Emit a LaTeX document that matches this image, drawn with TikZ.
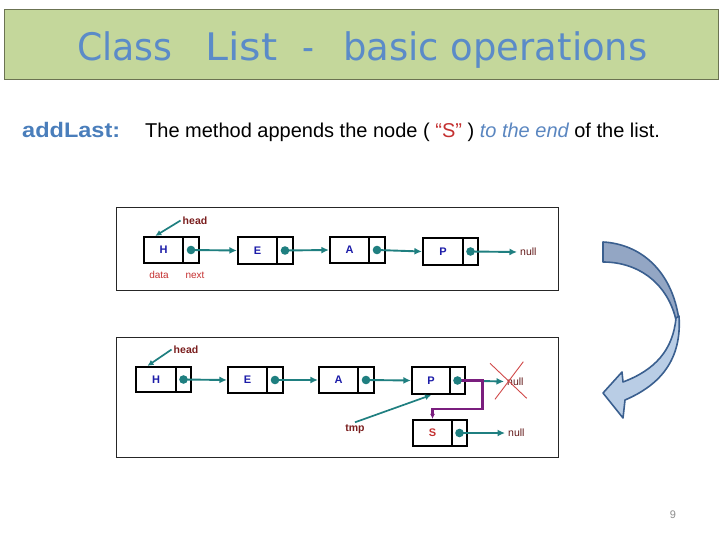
\documentclass[tikz,border=0pt]{standalone}
\usepackage{fontspec}
\setmainfont{Liberation Sans}
\newfontfamily\titlefont{DejaVu Sans}
\usetikzlibrary{arrows.meta}
\definecolor{titlefill}{HTML}{C4D79B}
\definecolor{titleborder}{HTML}{6B7352}
\definecolor{titletext}{HTML}{5B8BC8}
\definecolor{addblue}{HTML}{4A7EBB}
\definecolor{endblue}{HTML}{5A86C0}
\definecolor{tealc}{HTML}{1F7F80}
\definecolor{letterblue}{HTML}{1C1CA8}
\definecolor{labred}{HTML}{7A1E1E}
\definecolor{datared}{HTML}{C43030}
\definecolor{purp}{HTML}{7A1E7E}
\definecolor{xred}{HTML}{D04848}
\definecolor{arrdark}{HTML}{93A6C4}
\definecolor{arrlight}{HTML}{B9CDE5}
\definecolor{arredge}{HTML}{3A5F8F}
\begin{document}
\begin{tikzpicture}[x=1pt,y=-1pt,
  cellD/.style={draw, line width=2.2pt, minimum width=#1, inner sep=0pt,
    font=\fontsize{11}{12}\selectfont\bfseries, text=letterblue},
  cellN/.style={draw, line width=2.2pt, minimum width=#1, inner sep=0pt},
  ptr/.style={tealc, line width=1.9pt, -{Latex[length=7.5pt,width=7pt]}},
  hptr/.style={tealc, line width=1.7pt, -{Latex[length=6pt,width=6pt]}},
  headlab/.style={font=\fontsize{10.5}{12}\selectfont\bfseries, text=labred, inner sep=2pt},
  nulllab/.style={font=\fontsize{10.5}{12}\selectfont, text=labred!80!black, inner sep=3pt},
  dlab/.style={font=\fontsize{10}{11}\selectfont, text=datared, inner sep=1pt},
  titletxt/.style={anchor=base west, text=titletext, font=\titlefont\fontsize{33}{40}\selectfont, inner sep=0pt},
  frame/.style={draw=black!85, line width=0.8pt},
  dot/.style={fill=tealc}]
\useasboundingbox (0,0) rectangle (720,540);
% title
\node[draw=titleborder, fill=titlefill, line width=1pt, minimum width=714, minimum height=70, inner sep=0pt] (title) at (361,45) {};
\node[titletxt] (t1) at (77,61) {\scalebox{1.1}[1.15]{Class}};
\node[titletxt] (t2) at (205,61) {\scalebox{1.25}[1.15]{List}};
\node[titletxt, anchor=base] (t3) at (308,61) {\scalebox{1}[1.15]{-}};
\node[titletxt] (t4) at (343,61) {\scalebox{1.12}[1.15]{basic operations}};
% body text
\node[anchor=base west, text=addblue, font=\fontsize{21}{24}\selectfont\bfseries, inner sep=0pt] (add) at (22,137.5) {\scalebox{1.12}[1]{addLast:}};
\node[anchor=base west, font=\fontsize{20}{24}\selectfont, inner sep=0pt] (desc) at (145,137.5)
  {The method appends the node ( \textcolor{datared}{“S”} ) \textcolor{endblue}{\itshape to the end} of the list.};
% ---------- diagram 1 ----------
\node[frame, minimum width=442, minimum height=83, inner sep=0pt] (f1) at (337.5,248.5) {};
\node[cellD=39, minimum height=26] (H1) at (163.5,250) {H};
\node[cellN=16, minimum height=26] (H1n) at (191,250) {};
\node[cellD=39, minimum height=27] (E1) at (257.5,250.5) {E};
\node[cellN=16, minimum height=27] (E1n) at (285,250.5) {};
\node[cellD=39, minimum height=26] (A1) at (349.5,250) {A};
\node[cellN=16, minimum height=26] (A1n) at (377,250) {};
\node[cellD=40, minimum height=27] (P1) at (443,251.5) {P};
\node[cellN=15, minimum height=27] (P1n) at (470.5,251.5) {};
\node[nulllab, anchor=west] (N1) at (517,252) {null};
\node[headlab] (hd1) at (195,220.5) {head};
\node[dlab] (data1) at (159,275) {data};
\node[dlab] (next1) at (195,275) {next};
\draw[ptr] (H1n.center) -- (E1.west);
\draw[ptr] (E1n.center) -- (A1.west);
\draw[ptr] (A1n.center) -- (P1.west);
\draw[ptr] (P1n.center) -- (N1.west);
\draw[hptr] (hd1.west) -- (H1.120);
\foreach \n in {H1n,E1n,A1n,P1n} \fill[dot] (\n.center) circle (4.3);
% ---------- diagram 2 ----------
\node[frame, minimum width=441.5, minimum height=120, inner sep=0pt] (f2) at (337.25,397.5) {};
\node[cellD=40, minimum height=25] (H2) at (156,379.5) {H};
\node[cellN=15, minimum height=25] (H2n) at (183.5,379.5) {};
\node[cellD=39, minimum height=26] (E2) at (247.5,380) {E};
\node[cellN=16, minimum height=26] (E2n) at (275,380) {};
\node[cellD=39, minimum height=26] (A2) at (338.5,380) {A};
\node[cellN=16, minimum height=26] (A2n) at (366,380) {};
\node[cellD=38, minimum height=27] (P2) at (431,380.5) {P};
\node[cellN=15, minimum height=27] (P2n) at (457.5,380.5) {};
\node[cellD=39, minimum height=26, text=datared] (S2) at (432.5,433) {S};
\node[cellN=15, minimum height=26] (S2n) at (459.5,433) {};
\node[nulllab, anchor=west] (N2) at (504,381.5) {null};
\node[nulllab, anchor=west] (N3) at (505,433) {null};
\node[headlab] (hd2) at (186,349.5) {head};
\node[headlab] (tmp) at (355,429) {tmp};
\draw[ptr] (H2n.center) -- (E2.west);
\draw[ptr] (E2n.center) -- (A2.west);
\draw[ptr] (A2n.center) -- (P2.west);
\draw[ptr] (P2n.center) -- (N2.west);
\draw[ptr] (S2n.center) -- (N3.west);
\draw[hptr] (hd2.west) -- (H2.122);
\draw[hptr] (tmp.north) -- (P2.south);
\coordinate (bend) at (482.5,409);
\draw[purp, line width=2.4pt, -{Latex[length=5pt,width=5pt]}] (P2n.center) -| (bend) -| (S2.north);
\foreach \n in {H2n,E2n,A2n,P2n,S2n} \fill[dot] (\n.center) circle (4.3);
\draw[xred, line width=0.9pt] (490,363.3) -- (526.7,398.3);
\draw[xred, line width=0.9pt] (523.3,361.7) -- (495,399.3);
% ---------- curved arrow ----------
\draw[arredge, line width=1.6pt, fill=arrdark, line join=round]
  (603,242) .. controls (640,244) and (672,270) .. (679,320)
  -- (676,320) .. controls (668,285) and (640,262) .. (603,262) -- cycle;
\draw[arredge, line width=1.6pt, fill=arrlight, line join=round]
  (679,316) .. controls (682,360) and (660,385) .. (625,400)
  -- (623,418) -- (603,393) -- (622,372) -- (623,382)
  .. controls (655,370) and (673,350) .. (676,318) -- cycle;
% page number
\node[text=black!45, font=\fontsize{11}{13}\selectfont] (pg) at (673,515) {9};
\end{tikzpicture}
\end{document}
